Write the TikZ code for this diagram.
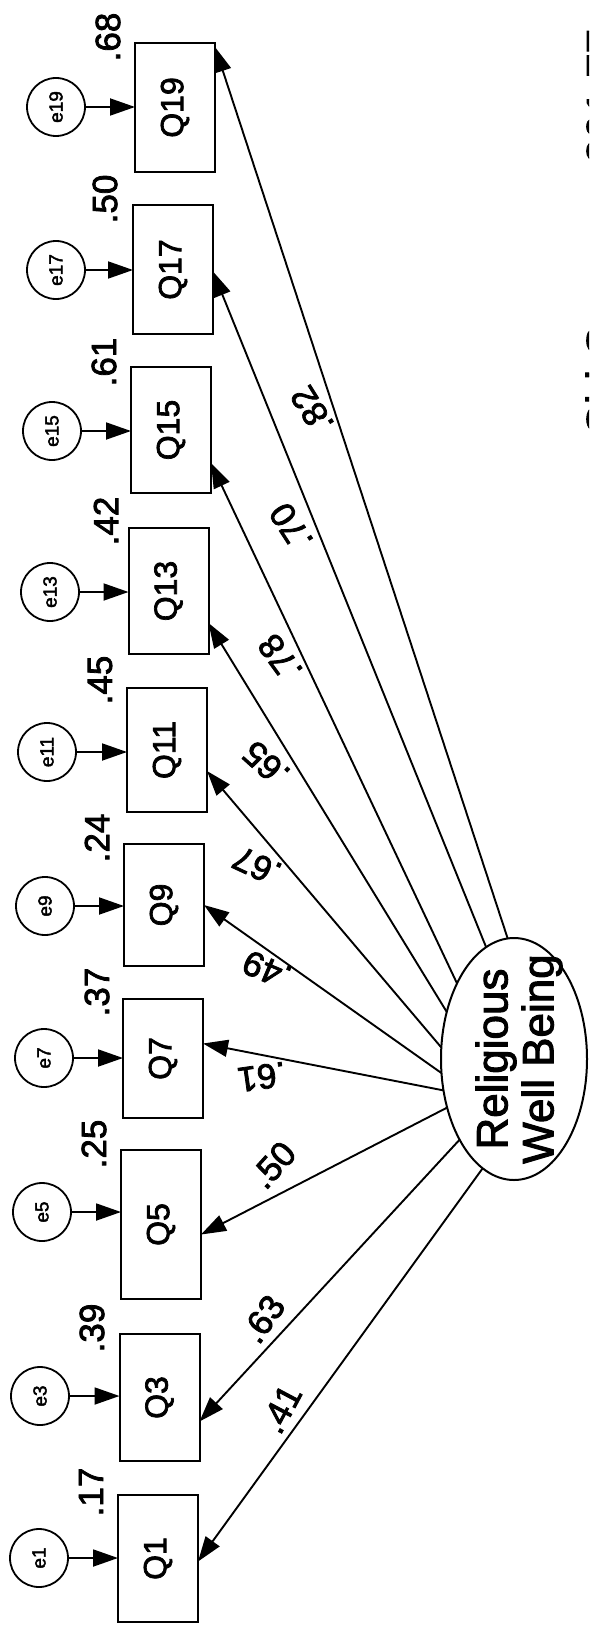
\documentclass[tikz,border=0pt]{standalone}
\usepackage{fontspec}
\setmainfont{Liberation Sans}[RawFeature={embolden=2.2}]
\usepackage{graphicx}
\usetikzlibrary{arrows.meta,shapes.geometric}
\begin{document}
\begin{tikzpicture}[x=1pt,y=-1pt,
  every node/.style={inner sep=0pt, outer sep=0pt},
  obs/.style={draw, rectangle, line width=2pt, minimum width=80pt, font=\fontsize{32}{32}\selectfont},
  err/.style={draw, circle, line width=1.8pt, minimum size=58pt, font=\fontsize{19}{19}\selectfont},
  lat/.style={draw, ellipse, line width=2pt, minimum width=146pt, minimum height=242pt},
  num/.style={font=\fontsize{35}{35}\selectfont},
  big/.style={font=\fontsize{44}{46}\selectfont},
  arr/.style={line width=1.9pt, -{Triangle[length=25pt,width=17pt]}},
]
\useasboundingbox (0,0) rectangle (589,1629);

% observed variables
\node[obs, minimum height=129pt] (Q19) at (175,107.5)  {\rotatebox{90}{Q19}};
\node[obs, minimum height=129pt] (Q17) at (173,269.5)  {\rotatebox{90}{Q17}};
\node[obs, minimum height=126pt] (Q15) at (171,430)    {\rotatebox{90}{Q15}};
\node[obs, minimum height=126pt] (Q13) at (168.5,591)  {\rotatebox{90}{Q13}};
\node[obs, minimum height=124pt] (Q11) at (167,750)    {\rotatebox{90}{Q11}};
\node[obs, minimum height=122pt] (Q9)  at (164,905)    {\rotatebox{90}{Q9}};
\node[obs, minimum height=119pt] (Q7)  at (163,1058.5) {\rotatebox{90}{Q7}};
\node[obs, minimum height=149pt] (Q5)  at (161,1224.5) {\rotatebox{90}{Q5}};
\node[obs, minimum height=127pt] (Q3)  at (159.5,1397.5) {\rotatebox{90}{Q3}};
\node[obs, minimum height=127pt] (Q1)  at (158,1558.5) {\rotatebox{90}{Q1}};

% error terms
\node[err] (e19) at (56,107)  {\rotatebox{90}{e19}};
\node[err] (e17) at (56,270)  {\rotatebox{90}{e17}};
\node[err] (e15) at (52,431)  {\rotatebox{90}{e15}};
\node[err] (e13) at (50,592)  {\rotatebox{90}{e13}};
\node[err] (e11) at (47,752)  {\rotatebox{90}{e11}};
\node[err] (e9)  at (45,906)  {\rotatebox{90}{e9}};
\node[err] (e7)  at (44,1058) {\rotatebox{90}{e7}};
\node[err] (e5)  at (42,1212) {\rotatebox{90}{e5}};
\node[err] (e3)  at (40,1396) {\rotatebox{90}{e3}};
\node[err] (e1)  at (39,1558) {\rotatebox{90}{e1}};

\foreach \e/\q in {e19/Q19,e17/Q17,e15/Q15,e13/Q13,e11/Q11,e9/Q9,e7/Q7,e5/Q5,e3/Q3,e1/Q1}
  \draw[arr] (\e) -- (\e -| \q.west);

% latent variable
\node[lat] (RWB) at (514,1059) {};
\node[big, rotate=90, align=center] (RWBt) at ([xshift=5pt]RWB.center) {Religious\\Well Being};

% loadings
\draw[arr] (RWB.93)  -- ([yshift=60.5pt]Q19.east);
\draw[arr] (RWB.104) -- ([yshift=-2pt]Q17.east);
\draw[arr] (RWB.127) -- ([yshift=-33pt]Q15.east);
\draw[arr] (RWB.145) -- ([yshift=-32pt]Q13.east);
\draw[arr] (RWB.171) -- ([yshift=-21pt]Q11.east);
\draw[arr] (RWB.191) -- ([yshift=0pt]Q9.east);
\draw[arr] (RWB.204) -- ([yshift=15pt]Q7.east);
\draw[arr] (RWB.216) -- ([yshift=-10pt]Q5.east);
\draw[arr] (RWB.236) -- ([yshift=-24pt]Q3.east);
\draw[arr] (RWB.254) -- ([yshift=-3pt]Q1.east);

% loading labels
\node[num, rotate=122] (l19) at (312,410)  {.82};
\node[num, rotate=123] (l17) at (291,527)  {.70};
\node[num, rotate=126] (l15) at (280,658)  {.78};
\node[num, rotate=138] (l13) at (266,764)  {.65};
\node[num, rotate=155] (l11) at (257,866)  {.67};
\node[num, rotate=157] (l9)  at (267,970)  {.49};
\node[num, rotate=188] (l7)  at (262,1077) {.61};
\node[num, rotate=48]  (l5)  at (273,1165) {.50};
\node[num, rotate=55]  (l3)  at (263,1319) {.63};
\node[num, rotate=62]  (l1)  at (281,1409) {.41};

% squared multiple correlations
\node[num, rotate=90] (r19) at (108,37)   {.68};
\node[num, rotate=90] (r17) at (105,199)  {.50};
\node[num, rotate=90] (r15) at (104,362)  {.61};
\node[num, rotate=90] (r13) at (106,521)  {.42};
\node[num, rotate=90] (r11) at (100,680)  {.45};
\node[num, rotate=90] (r9)  at (97,838)   {.24};
\node[num, rotate=90] (r7)  at (97,992)   {.37};
\node[num, rotate=90] (r5)  at (94,1144)  {.25};
\node[num, rotate=90] (r3)  at (92,1328)  {.39};
\node[num, rotate=90] (r1)  at (91,1492)  {.17};

% fit text cut off at the page edge
\begin{scope}
\clip (0,0) rectangle (589,1629);
\node[big, rotate=90, anchor=north west] (chi) at (585.5,436) {Chi-Square = 201.77};
\end{scope}
\end{tikzpicture}
\end{document}
